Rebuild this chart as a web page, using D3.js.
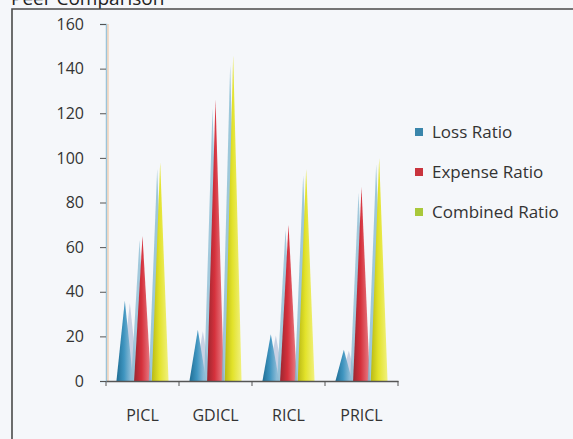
<!doctype html>
<html>
<head>
<meta charset="UTF-8">
<script src="https://d3js.org/d3.v7.min.js"></script>
<style>
  html, body { margin: 0; padding: 0; background: #f5f7fa; }
  svg { display: block; font-family: "Open Sans", sans-serif; }
</style>
</head>
<body>
<script>
// chart data
const categories = ["PICL", "GDICL", "RICL", "PRICL"];
const seriesNames = ["Loss Ratio", "Expense Ratio", "Combined Ratio"];
const lossRatio = [36, 23, 21, 14];
const expenseRatio = [65, 126, 70, 87];
const combinedRatio = [98, 146, 95, 100];
const yTicks = [0, 20, 40, 60, 80, 100, 120, 140, 160];

(function(){
  const W = 573, H = 439;
  const font = "'Open Sans', sans-serif";
  const seriesValues = [lossRatio, expenseRatio, combinedRatio];
  const colors = {
    "Loss Ratio":     { dark: "#1f6e95", mid: "#3f95c0", light: "#a6c8de", key: "#3a86ab", back: "#b8c4dc", backDx: 5 },
    "Expense Ratio":  { dark: "#9c2630", mid: "#d5313c", light: "#e9828a", key: "#c9343d", back: "#86b9d2", backDx: -3 },
    "Combined Ratio": { dark: "#b9b915", mid: "#e2e22a", light: "#f1f17e", key: "#a9c83a", back: "#7fb8cf", backDx: -3 }
  };

  const svg = d3.select("body").append("svg")
      .attr("width", W)
      .attr("height", H);

  // gradients for cones
  const defs = svg.append("defs");
  seriesNames.forEach(function(s, i){
    const g = defs.append("linearGradient")
        .attr("id", "grad" + i)
        .attr("x1", "0").attr("x2", "1").attr("y1", "0").attr("y2", "0");
    g.append("stop").attr("offset", "0%").attr("stop-color", colors[s].dark);
    g.append("stop").attr("offset", "45%").attr("stop-color", colors[s].mid);
    g.append("stop").attr("offset", "100%").attr("stop-color", colors[s].light);
  });

  // title (cut off at top, as in the scan)
  svg.append("text")
     .attr("x", 11)
     .attr("y", 5)
     .attr("font-size", 19)
     .attr("fill", "#222")
     .text("Peer Comparison");

  // frame
  svg.append("path")
     .attr("d", "M12," + H + " V9 H" + W)
     .attr("fill", "none")
     .attr("stroke", "#4a4a4a")
     .attr("stroke-width", 1.6);

  const x0 = 106, x1 = 398, yTop = 24, yBase = 381;

  const xScale = d3.scaleBand().domain(categories).range([x0, x1]).padding(0);
  const xInner = d3.scaleBand().domain(seriesNames).range([10, 63]).padding(0);
  const yScale = d3.scaleLinear().domain([0, 160]).range([yBase, yTop]);

  // y axis
  const yAxis = d3.axisLeft(yScale).tickValues(yTicks).tickSize(6).tickPadding(16);
  const gy = svg.append("g")
     .attr("transform", "translate(" + x0 + ",0)")
     .call(yAxis)
     .attr("font-family", font)
     .attr("font-size", 16);
  gy.select(".domain").attr("stroke", "#9cc3d8").attr("stroke-width", 1.5);
  gy.selectAll(".tick line").attr("stroke", "#555");
  gy.selectAll(".tick text").attr("fill", "#333");

  // 3D wall edge
  svg.append("line")
     .attr("x1", x0 + 2).attr("x2", x0 + 2)
     .attr("y1", yTop).attr("y2", yBase)
     .attr("stroke", "#f0c9a8").attr("stroke-width", 1.2);

  // cones
  const cone = function(cx, v, w){
    return "M" + (cx - w / 2) + "," + yScale(0) +
           " L" + cx + "," + yScale(v) +
           " L" + (cx + w / 2) + "," + yScale(0) + " Z";
  };

  categories.forEach(function(c, ci){
    seriesNames.forEach(function(s, si){
      const v = seriesValues[si][ci];
      const cx = xScale(c) + xInner(s) + xInner.bandwidth() / 2;
      const w = xInner.bandwidth() * 0.95;
      svg.append("path")
         .attr("d", cone(cx + colors[s].backDx, v * 0.97, w))
         .attr("fill", colors[s].back)
         .attr("opacity", 0.75);
      svg.append("path")
         .attr("d", cone(cx, v, w))
         .attr("fill", "url(#grad" + si + ")");
    });
  });

  // x axis
  const gx = svg.append("g")
     .attr("transform", "translate(0," + yBase + ")")
     .call(d3.axisBottom(xScale).tickSize(0).tickPadding(29))
     .attr("font-family", font)
     .attr("font-size", 16);
  gx.select(".domain").attr("stroke", "#555").attr("stroke-width", 1.5);
  gx.selectAll(".tick text").attr("fill", "#333");
  gx.selectAll(".boundary")
     .data(categories.concat(["end"]))
     .enter().append("line")
       .attr("x1", function(d, i){ return x0 + i * xScale.step(); })
       .attr("x2", function(d, i){ return x0 + i * xScale.step(); })
       .attr("y1", 0).attr("y2", 5)
       .attr("stroke", "#555");

  // legend
  const legend = svg.append("g").attr("transform", "translate(415,128)");
  seriesNames.forEach(function(s, i){
    const g = legend.append("g").attr("transform", "translate(0," + (i * 40) + ")");
    g.append("rect")
     .attr("width", 8).attr("height", 8)
     .attr("fill", colors[s].key);
    g.append("text")
     .attr("x", 17).attr("y", 10)
     .attr("font-size", 17)
     .attr("fill", "#333")
     .text(s);
  });
})();
</script>
</body>
</html>
